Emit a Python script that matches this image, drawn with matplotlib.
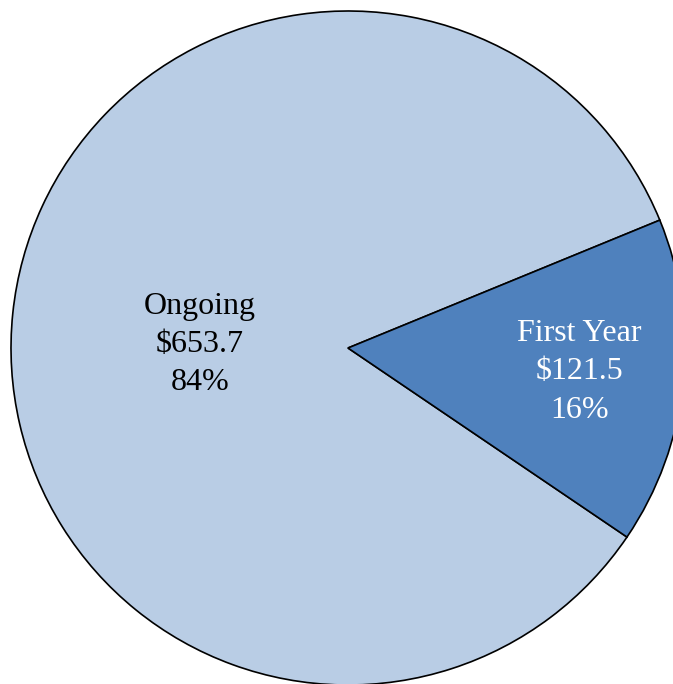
import numpy as np
import matplotlib.pyplot as plt

labels = ["Ongoing", "First Year"]
values = [653.7, 121.5]
colors = ["#B9CDE5", "#4F81BD"]
text_colors = ["black", "white"]
label_radius = [0.44, 0.69]
label_shift = [4.5, 0.0]  # degrees, nudges each label off the wedge's mid-angle

plt.rcParams["font.family"] = ["Liberation Serif", "DejaVu Serif"]

fig = plt.figure(figsize=(6.73, 6.84), dpi=100)
ax = fig.add_axes([0, 0, 1, 1])

wedges, _ = ax.pie(values, colors=colors, startangle=22.3, counterclock=True,
                   radius=1, center=(0, 0),
                   wedgeprops=dict(edgecolor="black", linewidth=1.2))

total = sum(values)
for w, lab, val, tc, r, sh in zip(wedges, labels, values, text_colors,
                                  label_radius, label_shift):
    mid = np.deg2rad((w.theta1 + w.theta2) / 2 + sh)
    pct = round(val / total * 100)
    ax.text(r * np.cos(mid), r * np.sin(mid), f"{lab}\n${val:.1f}\n{pct}%",
            ha="center", va="center", fontsize=23, color=tc, linespacing=1.42)

ax.set_xlim(-348 / 337, (673 - 348) / 337)
ax.set_ylim((348 - 684) / 337, 348 / 337)
ax.set_aspect("equal")
ax.axis("off")

fig.savefig("out.png", dpi=100)
